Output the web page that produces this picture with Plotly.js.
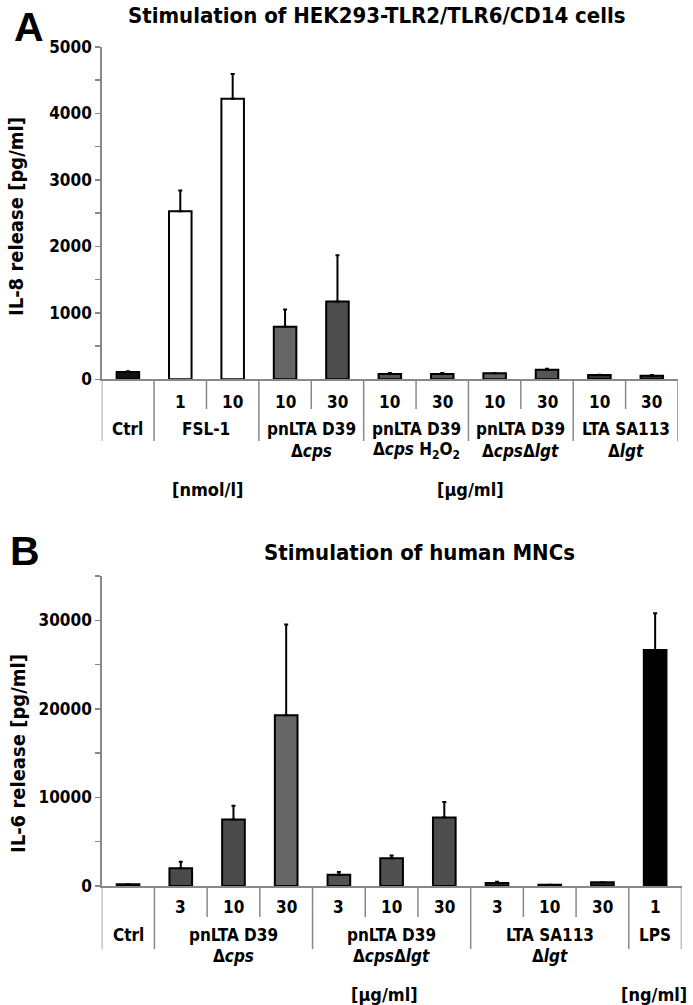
<!DOCTYPE html>
<html>
<head>
<meta charset="utf-8">
<script src="https://cdn.plot.ly/plotly-3.0.1.min.js"></script>
<style>html,body{margin:0;padding:0;background:#fff;}#chart{width:693px;height:1005px;}</style>
</head>
<body>
<div id="chart"></div>
<script>
// ---------- Panel A data ----------
const catA   = ['Ctrl','FSL-1 1','FSL-1 10','cps 10','cps 30','cps H2O2 10','cps H2O2 30','cps lgt 10','cps lgt 30','SA113 lgt 10','SA113 lgt 30'];
const valA   = [110, 2530, 4220, 790, 1170, 80, 80, 90, 145, 65, 55];
const errA   = [12, 310, 375, 260, 695, 15, 15, 5, 15, 5, 10];
const doseA  = ['', '1', '10', '10', '30', '10', '30', '10', '30', '10', '30'];
const groupLine1A = ['Ctrl', 'FSL-1', 'pnLTA D39', 'pnLTA D39', 'pnLTA D39', 'LTA SA113'];
const groupLine2A = ['', '', 'Δ<i>cps</i>', 'Δ<i>cps</i> H<sub>2</sub>O<sub>2</sub>', 'Δ<i>cps</i>Δ<i>lgt</i>', 'Δ<i>lgt</i>'];
const groupSizeA  = [1, 2, 2, 2, 2, 2];
const unitsA = ['[nmol/l]', '[µg/ml]'];
const tickValsA = [0, 1000, 2000, 3000, 4000, 5000];
const tickTextA = ['0', '1000', '2000', '3000', '4000', '5000'];
const minorStepA = 500;

// ---------- Panel B data ----------
const catB   = ['Ctrl','cps 3','cps 10','cps 30','cps lgt 3','cps lgt 10','cps lgt 30','SA113 3','SA113 10','SA113 30','LPS 1'];
const valB   = [200, 2000, 7510, 19290, 1280, 3130, 7740, 340, 150, 420, 26650];
const errB   = [0, 750, 1550, 10230, 300, 300, 1740, 130, 0, 0, 4150];
const doseB  = ['', '3', '10', '30', '3', '10', '30', '3', '10', '30', '1'];
const groupLine1B = ['Ctrl', 'pnLTA D39', 'pnLTA D39', 'LTA SA113', 'LPS'];
const groupLine2B = ['', 'Δ<i>cps</i>', 'Δ<i>cps</i>Δ<i>lgt</i>', 'Δ<i>lgt</i>', ''];
const groupSizeB  = [1, 3, 3, 3, 1];
const unitsB = ['[µg/ml]', '[ng/ml]'];
const tickValsB = [0, 10000, 20000, 30000];
const tickTextB = ['0', '10000', '20000', '30000'];
const minorStepB = 5000;

// ---------- styles ----------
const colorsA = ['#111111','#ffffff','#ffffff','#666666','#4d4d4d','#555555','#555555','#636363','#555555','#333333','#333333'];
const colorsB = ['#1a1a1a','#4a4a4a','#4a4a4a','#666666','#505050','#505050','#4d4d4d','#222222','#333333','#222222','#000000'];

const W = 693, H = 1005;
const px = x => x / W;
const py = y => 1 - y / H;
const NARROW = '"Liberation Sans Narrow", "DejaVu Sans Condensed", "Arial Narrow", sans-serif';
const WIDE = '"Liberation Sans", Arial, sans-serif';
const AX = '#888888';

function barTrace(cats, vals, errs, colors, xa, ya) {
  return {
    type: 'bar', x: cats, y: vals, xaxis: xa, yaxis: ya, width: 0.43,
    marker: {color: colors, line: {color: '#000', width: 2}},
    error_y: {type: 'data', array: errs, arrayminus: errs.map(() => 0), symmetric: false,
              color: '#000', thickness: 2, width: 2},
    hoverinfo: 'x+y'
  };
}

const shapes = [];
const annotations = [];
function txt(text, x, y, size, opts) {
  annotations.push(Object.assign({text: text, x: x, y: y, xref: 'paper', yref: 'paper',
    showarrow: false, xanchor: 'center', yanchor: 'middle',
    font: {family: NARROW, size: size, color: '#000', weight: 'bold'}}, opts || {}));
}

function table(xref, doses, sizes, l1, l2, basePx, innerPx, groupPx, doseY, l1Y, l2Y) {
  let pos = -0.5;
  const bounds = [pos];
  sizes.forEach(s => { pos += s; bounds.push(pos); });
  bounds.forEach(b => shapes.push({type: 'line', xref: xref, yref: 'paper', x0: b, x1: b,
    y0: py(basePx), y1: py(groupPx), line: {color: AX, width: 1.5}}));
  let start = -0.5;
  sizes.forEach(s => {
    for (let k = 1; k < s; k++) {
      const b = start + k;
      shapes.push({type: 'line', xref: xref, yref: 'paper', x0: b, x1: b,
        y0: py(basePx), y1: py(innerPx), line: {color: AX, width: 1.5}});
    }
    start += s;
  });
  doses.forEach((d, i) => {
    if (d) annotations.push({text: d, x: i, y: py(doseY), xref: xref, yref: 'paper', showarrow: false,
      xanchor: 'center', yanchor: 'middle', font: {family: NARROW, size: 17, color: '#000', weight: 'bold'}});
  });
  start = -0.5;
  sizes.forEach((s, g) => {
    const c = start + s / 2;
    [[l1[g], l1Y], [l2[g], l2Y]].forEach(([t, yy]) => {
      if (t) annotations.push({text: t, x: c, y: py(yy), xref: xref, yref: 'paper', showarrow: false,
        xanchor: 'center', yanchor: 'middle', font: {family: NARROW, size: 17, color: '#000', weight: 'bold'}});
    });
    start += s;
  });
}

table('x', doseA, groupSizeA, groupLine1A, groupLine2A, 379.3, 409, 441, 401.5, 429.5, 451);
table('x2', doseB, groupSizeB, groupLine1B, groupLine2B, 886, 917, 949, 907, 935, 956);

txt('A', px(29), py(2), 41, {yanchor: 'top', font: {family: WIDE, size: 41, color: '#000', weight: 'bold'}});
txt('B', px(25), py(526), 41, {yanchor: 'top', font: {family: WIDE, size: 41, color: '#000', weight: 'bold'}});
txt('Stimulation of HEK293-TLR2/TLR6/CD14 cells', px(377), py(15), 22);
txt('Stimulation of human MNCs', px(419), py(552), 22);
txt('IL-8 release [pg/ml]', px(16), py(217), 20, {textangle: -90});
txt('IL-6 release [pg/ml]', px(18), py(754), 20, {textangle: -90});
txt(unitsA[0], px(207), py(489), 18);
txt(unitsA[1], px(470), py(489), 18);
txt(unitsB[0], px(384), py(994), 18);
txt(unitsB[1], px(654), py(994), 18);

const xaxisBase = {type: 'category', range: [-0.5, 10.5], showline: true, linecolor: AX, linewidth: 1.5,
  showticklabels: false, ticks: '', showgrid: false, zeroline: false, fixedrange: true};
const yaxisBase = {showline: true, linecolor: AX, linewidth: 1.5, ticks: 'outside', ticklen: 5,
  tickcolor: AX, tickwidth: 1.5, showgrid: false, zeroline: false, fixedrange: true, tickmode: 'array',
  tickfont: {family: NARROW, size: 17, color: '#000', weight: 'bold'}};

const layout = {
  width: W, height: H, margin: {l: 0, r: 0, t: 0, b: 0},
  paper_bgcolor: '#fff', plot_bgcolor: '#fff', showlegend: false,
  xaxis: Object.assign({}, xaxisBase, {domain: [px(101.7), px(678)], anchor: 'y', categoryarray: catA, categoryorder: 'array'}),
  yaxis: Object.assign({}, yaxisBase, {domain: [py(379.3), py(47)], anchor: 'x', range: [0, 5000],
    tickvals: tickValsA, ticktext: tickTextA,
    minor: {dtick: minorStepA, tick0: 0, ticks: 'outside', ticklen: 5, tickcolor: AX, tickwidth: 1.5, showgrid: false}}),
  xaxis2: Object.assign({}, xaxisBase, {domain: [px(101.7), px(681.5)], anchor: 'y2', categoryarray: catB, categoryorder: 'array'}),
  yaxis2: Object.assign({}, yaxisBase, {domain: [py(886), py(576)], anchor: 'x2', range: [0, 35000],
    tickvals: tickValsB, ticktext: tickTextB,
    minor: {dtick: minorStepB, tick0: 0, ticks: 'outside', ticklen: 5, tickcolor: AX, tickwidth: 1.5, showgrid: false}}),
  shapes: shapes,
  annotations: annotations
};

Plotly.newPlot('chart', [
  barTrace(catA, valA, errA, colorsA, 'x', 'y'),
  barTrace(catB, valB, errB, colorsB, 'x2', 'y2')
], layout, {displayModeBar: false, staticPlot: true});
</script>
</body>
</html>
